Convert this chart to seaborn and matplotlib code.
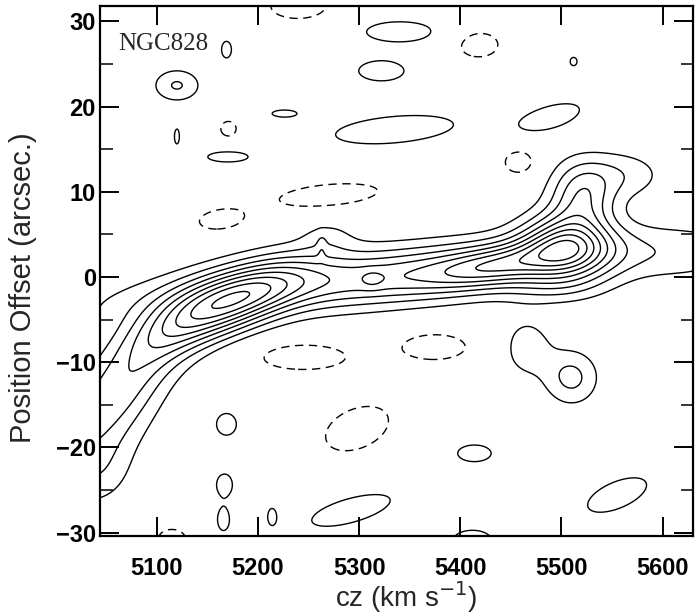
import numpy as np
import pandas as pd
import matplotlib
matplotlib.use("Agg")
import matplotlib.pyplot as plt
import seaborn as sns

# ---- data: emission components of the position-velocity map ----
# velocity centre (km/s), offset centre (arcsec), widths, tilt (arcsec per km/s), amplitude (contour units)
comp_v  = [5165, 5350, 5085, 5040, 5040, 5505, 5440, 5520, 5560, 5630, 5495, 5313, 5268, 5263,
           5169, 5120, 5120, 5170, 5226, 5340, 5322, 5512, 5335, 5490,
           5466, 5510, 5414, 5555, 5412, 5292, 5169, 5167, 5166, 5214,
           5240, 5163, 5171, 5270, 5418, 5458, 5245, 5375, 5298, 5115]
comp_y  = [-3.4, 0.3, -10.5, -16.5, -23.0, 3.8, 1.5, 9.5, 12.0, 1.8, -1.0, -0.3, 4.8, 3.5,
           26.7, 22.5, 16.5, 14.1, 19.2, 28.8, 24.2, 25.3, 17.3, 18.8,
           -8.3, -11.8, -20.7, -25.6, -31.0, -27.4, -17.3, -24.4, -28.5, -28.1,
           31.8, 6.7, 17.4, 9.6, 27.3, 13.5, -9.4, -8.2, -17.8, -30.8]
comp_sv = [55, 165, 40, 40, 25, 30, 45, 22, 30, 40, 35, 8, 18, 3,
           5, 17, 2.5, 20, 12, 34, 23, 3.5, 60, 28,
           18, 19, 17, 30, 20, 40, 10, 8, 6, 4,
           28, 21, 8, 50, 20, 14, 42, 31, 32, 14]
comp_sy = [2.5, 2.3, 3.5, 5.0, 3.0, 2.5, 1.5, 2.8, 2.0, 2.0, 1.6, 0.8, 1.4, 1.0,
           1.0, 1.4, 0.9, 0.6, 0.4, 1.2, 1.2, 0.5, 1.6, 1.3,
           2.5, 2.3, 1.0, 1.7, 1.3, 1.5, 1.3, 1.3, 1.3, 0.9,
           1.5, 1.1, 0.9, 1.3, 1.5, 1.3, 1.5, 1.5, 2.5, 1.2]
comp_k  = [0.045, 0.012, 0.09, 0.05, 0.0, 0.0, 0.02, 0.0, 0.0, 0.0, 0.0, 0.0, 0.0, 0.0,
           0.0, 0.0, 0.0, 0.0, 0.0, 0.0, 0.0, 0.0, 0.01, 0.03,
           0.0, 0.0, 0.0, 0.04, 0.0, 0.03, 0.0, 0.0, 0.0, 0.0,
           0.0, 0.01, 0.0, 0.01, 0.0, 0.0, 0.0, 0.0, 0.03, 0.0]
comp_a  = [6.8, 4.7, 2.2, 2.4, 1.0, 6.0, 3.0, 3.5, 1.6, 0.6, 1.2, 0.7, 0.9, 0.7,
           1.6, 2.1, 1.6, 1.6, 1.6, 1.6, 1.6, 1.6, 1.6, 1.6,
           1.6, 2.3, 1.6, 1.6, 1.6, 1.6, 1.6, 1.6, 1.6, 1.6,
           -1.6, -1.6, -1.6, -1.6, -1.6, -1.6, -1.6, -1.6, -1.6, -1.6]

pos_levels = [1, 2, 3, 4, 5, 6, 7, 8, 9]
neg_levels = [-1]
xticks = [5100, 5200, 5300, 5400, 5500, 5600]
yticks = [-30, -20, -10, 0, 10, 20, 30]
label_text = "NGC828"

comps = pd.DataFrame({"v": comp_v, "y": comp_y, "sv": comp_sv, "sy": comp_sy,
                      "k": comp_k, "a": comp_a})

# ---- build the map on a grid ----
vg = np.linspace(5040, 5635, 600)
yg = np.linspace(-32, 33, 400)
V, Y = np.meshgrid(vg, yg)
F = np.zeros_like(V)
for r in comps.itertuples():
    dv = (V - r.v) / r.sv
    dy = (Y - r.y - r.k * (V - r.v)) / r.sy
    F += r.a * np.exp(-0.5 * (dv ** 2 + dy ** 2))

# ---- styling ----
sns.set_theme(style="ticks")
plt.rcParams["font.family"] = ["Liberation Sans", "DejaVu Sans"]
plt.rcParams["axes.linewidth"] = 1.6

fig = plt.figure(figsize=(6.96, 6.16), dpi=100)
ax = fig.add_axes([0.1437, 0.130, 0.852, 0.860])

ax.contour(V, Y, F, levels=pos_levels, colors="black", linewidths=1.0,
           linestyles="solid")
ax.contour(V, Y, F, levels=neg_levels, colors="black", linewidths=1.0,
           linestyles=[(0, (6, 4))])

ax.set_xlim(5044, 5630)
ax.set_ylim(-30.4, 31.8)
ax.set_xticks(xticks)
ax.set_yticks(yticks)
ax.set_yticks(np.arange(-25, 31, 10), minor=True)
ax.tick_params(axis="both", which="major", direction="in", length=14, width=1.4,
               top=True, right=True, labelsize=17, colors="black")
ax.tick_params(axis="y", which="minor", direction="in", length=9, width=1.3,
               left=True, right=True)
ax.tick_params(axis="x", which="major", pad=15)
ax.tick_params(axis="y", which="major", pad=3)
for lab in ax.get_xticklabels() + ax.get_yticklabels():
    lab.set_fontweight("bold")

ax.set_xlabel("cz (km s$^{-1}$)", fontsize=20)
ax.set_ylabel("Position Offset (arcsec.)", fontsize=21)
ax.xaxis.set_label_coords(0.516, -0.082)
ax.yaxis.set_label_coords(-0.107, 0.468)

ax.text(0.03, 0.928, label_text, transform=ax.transAxes, fontsize=18,
        family=["Liberation Serif", "DejaVu Serif"], va="center", ha="left")

for s in ax.spines.values():
    s.set_color("black")

fig.savefig("out.png", dpi=100, facecolor="white")
